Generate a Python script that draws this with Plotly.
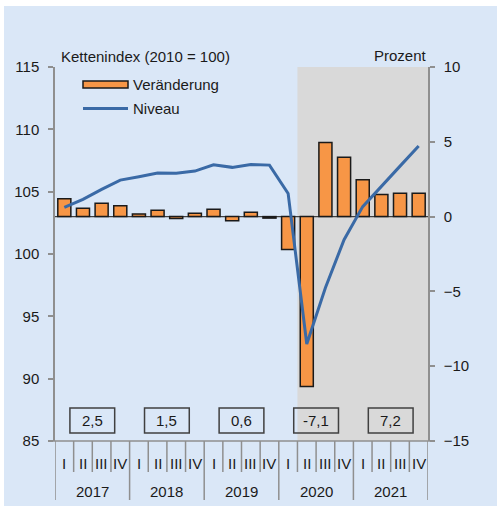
import plotly.graph_objects as go

quarters = ["I", "II", "III", "IV"] * 5
years = ["2017", "2018", "2019", "2020", "2021"]
veraenderung = [1.2, 0.55, 0.9, 0.73, 0.18, 0.42, -0.13, 0.22, 0.49, -0.27, 0.29, -0.1,
                -2.2, -11.35, 4.95, 3.96, 2.47, 1.47, 1.56, 1.56]
niveau = [103.74, 104.38, 105.18, 105.93, 106.2, 106.5, 106.47, 106.65, 107.16, 106.95,
          107.18, 107.13, 104.86, 92.78, 97.3, 101.15, 103.8, 105.45, 107.05, 108.66]
annual = ["2,5", "1,5", "0,6", "-7,1", "7,2"]

x = list(range(len(quarters)))

W, H = 497, 506
L, R, T, B = 55, 428, 67, 441


def px(v):
    return (v - L) / (R - L)


def py(v):
    return (B - v) / (B - T)


FONT = "Liberation Sans, Arial, sans-serif"
NARROW = "Liberation Sans Narrow, Arial Narrow, Liberation Sans, Arial, sans-serif"
BG = "#dae7f7"
AX = "#8f8f8f"
ORANGE = "#f79646"
BLUE = "#3a6aa6"

fig = go.Figure()
fig.add_trace(go.Bar(x=x, y=veraenderung, yaxis="y", width=0.7,
                     marker=dict(color=ORANGE, line=dict(color="#1a1a1a", width=1.5)),
                     showlegend=False, hoverinfo="skip"))
fig.add_trace(go.Scatter(x=x, y=niveau, yaxis="y2", mode="lines",
                         line=dict(color=BLUE, width=3), showlegend=False, hoverinfo="skip"))

shapes = []
shapes.append(dict(type="rect", xref="x", yref="paper", x0=12.5, x1=19.5, y0=0, y1=1,
                   fillcolor="#d9d9d9", line=dict(width=0), layer="below"))
shapes.append(dict(type="line", xref="x", yref="y", x0=-0.5, x1=19.5, y0=0, y1=0,
                   line=dict(color="#404040", width=1.2), layer="below"))
shapes.append(dict(type="line", xref="paper", yref="paper", x0=px(50), x1=px(433), y0=0, y1=0,
                   line=dict(color=AX, width=1.5)))
for k in range(len(quarters) + 1):
    bottom = py(500) if k % 4 == 0 else py(472)
    shapes.append(dict(type="line", xref="x", yref="paper", x0=k - 0.5, x1=k - 0.5,
                       y0=0, y1=bottom, line=dict(color=AX, width=1.5)))
for j, a in enumerate(annual):
    c = 4 * j + 1.5
    shapes.append(dict(type="rect", xref="x", yref="paper", x0=c - 1.2, x1=c + 1.2,
                       y0=py(433), y1=py(408), line=dict(color="#404040", width=1.5)))
shapes.append(dict(type="rect", xref="paper", yref="paper", x0=px(83), x1=px(128),
                   y0=py(88), y1=py(81), fillcolor=ORANGE, line=dict(color="#1a1a1a", width=1.5)))
shapes.append(dict(type="line", xref="paper", yref="paper", x0=px(83), x1=px(128),
                   y0=py(108.5), y1=py(108.5), line=dict(color=BLUE, width=3)))
shapes.append(dict(type="rect", xref="paper", yref="paper", x0=px(-20), x1=px(520),
                   y0=py(6), y1=py(-20), fillcolor="white", line=dict(width=0), layer="above"))
shapes.append(dict(type="rect", xref="paper", yref="paper", x0=px(-20), x1=px(4),
                   y0=py(530), y1=py(-20), fillcolor="white", line=dict(width=0), layer="above"))

ann = []
for i, q in enumerate(quarters):
    ann.append(dict(x=i, y=py(463), xref="x", yref="paper", text=q, showarrow=False,
                    font=dict(family=NARROW, size=15, color="#1a1a1a"),
                    xanchor="center", yanchor="middle"))
for j, yr in enumerate(years):
    ann.append(dict(x=4 * j + 1.5, y=py(491), xref="x", yref="paper", text=yr, showarrow=False,
                    font=dict(family=NARROW, size=15, color="#1a1a1a"),
                    xanchor="center", yanchor="middle"))
for j, a in enumerate(annual):
    ann.append(dict(x=4 * j + 1.5, y=py(420.5), xref="x", yref="paper", text=a, showarrow=False,
                    font=dict(family=FONT, size=15, color="#1a1a1a"),
                    xanchor="center", yanchor="middle"))
ann.append(dict(x=px(59), y=py(56), xref="paper", yref="paper", text="Kettenindex (2010 = 100)",
                showarrow=False, xanchor="left", yanchor="middle",
                font=dict(family=FONT, size=15, color="#1a1a1a")))
ann.append(dict(x=px(429), y=py(55), xref="paper", yref="paper", text="Prozent",
                showarrow=False, xanchor="right", yanchor="middle",
                font=dict(family=FONT, size=15, color="#1a1a1a")))
ann.append(dict(x=px(131), y=py(84.5), xref="paper", yref="paper", text="Veränderung",
                showarrow=False, xanchor="left", yanchor="middle",
                font=dict(family=FONT, size=15, color="#1a1a1a")))
ann.append(dict(x=px(131), y=py(108.5), xref="paper", yref="paper", text="Niveau",
                showarrow=False, xanchor="left", yanchor="middle",
                font=dict(family=FONT, size=15, color="#1a1a1a")))

fig.update_layout(
    width=W, height=H, autosize=False,
    margin=dict(l=L, r=W - R, t=T, b=H - B, pad=0),
    paper_bgcolor=BG, plot_bgcolor="rgba(0,0,0,0)",
    font=dict(family=FONT, size=15, color="#1a1a1a"),
    showlegend=False,
    hovermode=False,
    bargap=0.3,
    xaxis=dict(range=[-0.5, 19.5], showticklabels=False, showgrid=False, zeroline=False,
               showline=False, ticks="", fixedrange=True),
    yaxis=dict(side="right", range=[-15, 10], dtick=5, tick0=-15, showgrid=False,
               zeroline=False, showline=True, linecolor=AX, linewidth=1.5,
               ticks="outside", ticklen=5, tickcolor=AX, tickwidth=1.5,
               ticklabelstandoff=6, tickfont=dict(size=15, color="#1a1a1a")),
    yaxis2=dict(side="left", overlaying="y", range=[85, 115], dtick=5, tick0=85,
                showgrid=False, zeroline=False, showline=True, linecolor=AX, linewidth=1.5,
                ticks="outside", ticklen=5, tickcolor=AX, tickwidth=1.5,
                ticklabelstandoff=6, tickfont=dict(size=15, color="#1a1a1a")),
    shapes=shapes,
    annotations=ann,
)

fig.write_html("out.html", config={"displayModeBar": False},
               post_script="document.body.style.margin='0';document.body.style.overflow='hidden';")
